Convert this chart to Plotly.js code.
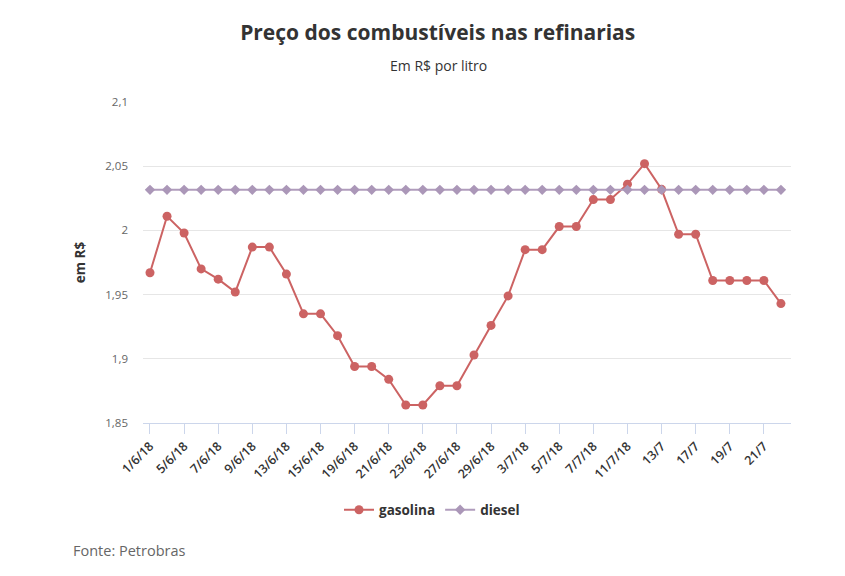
<!DOCTYPE html>
<html>
<head>
<meta charset="utf-8">
<script src="https://cdn.plot.ly/plotly-3.0.1.min.js"></script>
<style>
  html, body { margin: 0; padding: 0; background: #ffffff; }
  #chart { width: 845px; height: 576px; }
</style>
</head>
<body>
<div id="chart"></div>
<script>
// Datas de reajuste (eixo de categorias)
const datas = [
  "1/6/18", "2/6/18", "5/6/18", "6/6/18", "7/6/18", "8/6/18", "9/6/18", "12/6/18",
  "13/6/18", "14/6/18", "15/6/18", "16/6/18", "19/6/18", "20/6/18", "21/6/18", "22/6/18",
  "23/6/18", "26/6/18", "27/6/18", "28/6/18", "29/6/18", "30/6/18", "3/7/18", "4/7/18",
  "5/7/18", "6/7/18", "7/7/18", "10/7/18", "11/7/18", "12/7/18", "13/7", "14/7",
  "17/7", "18/7", "19/7", "20/7", "21/7", "24/7"
];

// Preço da gasolina nas refinarias (R$/litro)
const gasolina = [
  1.967, 2.011, 1.998, 1.970, 1.962, 1.952, 1.987, 1.987,
  1.966, 1.935, 1.935, 1.918, 1.894, 1.894, 1.884, 1.864,
  1.864, 1.879, 1.879, 1.903, 1.926, 1.949, 1.985, 1.985,
  2.003, 2.003, 2.024, 2.024, 2.036, 2.052, 2.032, 1.997,
  1.997, 1.961, 1.961, 1.961, 1.961, 1.943
];

// Preço do diesel nas refinarias (R$/litro), congelado no período
const diesel = datas.map(() => 2.0316);

// Rótulos do eixo Y no formato brasileiro
const yTicks = [1.85, 1.9, 1.95, 2, 2.05, 2.1];
const yTickText = ["1,85", "1,9", "1,95", "2", "2,05", "2,1"];

// Um rótulo a cada duas datas
const xTicks = datas.filter((d, i) => i % 2 === 0);

const FONT = "'Open Sans', 'Noto Sans', sans-serif";

const traces = [
  {
    name: "gasolina",
    x: datas,
    y: gasolina,
    type: "scatter",
    mode: "lines+markers",
    line: { color: "#cc6363", width: 2 },
    marker: { symbol: "circle", size: 9, color: "#cc6363" },
    hoverinfo: "x+y+name"
  },
  {
    name: "diesel",
    x: datas,
    y: diesel,
    type: "scatter",
    mode: "lines+markers",
    line: { color: "#b09cbc", width: 2 },
    marker: { symbol: "diamond", size: 8, color: "#ab97b8" },
    hoverinfo: "x+y+name"
  }
];

const layout = {
  width: 845,
  height: 576,
  paper_bgcolor: "#ffffff",
  plot_bgcolor: "#ffffff",
  margin: { l: 143, r: 54, t: 102, b: 153 },
  font: { family: FONT, color: "#333333" },
  title: {
    text: "<b>Preço dos combustíveis nas refinarias</b>",
    font: { family: FONT, size: 21, color: "#333333" },
    x: 0.518,
    xref: "container",
    xanchor: "center",
    y: 0.944,
    yref: "container",
    yanchor: "middle"
  },
  xaxis: {
    type: "category",
    range: [-0.41, 37.59],
    tickmode: "array",
    tickvals: xTicks,
    ticktext: xTicks,
    tickangle: -45,
    tickfont: { family: FONT, size: 12.5, color: "#333333", weight: 600 },
    ticks: "outside",
    ticklen: 10,
    tickwidth: 1,
    tickcolor: "#ccd6eb",
    showline: true,
    linecolor: "#ccd6eb",
    linewidth: 1,
    showgrid: false,
    zeroline: false,
    fixedrange: true
  },
  yaxis: {
    range: [1.85, 2.1],
    tickmode: "array",
    tickvals: yTicks,
    ticktext: yTickText,
    tickfont: { family: FONT, size: 11.5, color: "#666666" },
    ticklabelstandoff: 14,
    showgrid: true,
    gridcolor: "#e6e6e6",
    gridwidth: 1,
    zeroline: false,
    showline: false,
    ticks: "",
    title: {
      text: "<b>em R$</b>",
      font: { family: FONT, size: 13.5, color: "#333333" },
      standoff: 16
    },
    fixedrange: true
  },
  showlegend: true,
  legend: {
    orientation: "h",
    x: 0.446,
    xanchor: "center",
    y: -0.271,
    yanchor: "middle",
    font: { family: FONT, size: 13.5, color: "#333333", weight: 700 },
    itemwidth: 30,
    tracegroupgap: 0
  },
  annotations: [
    {
      text: "Em R$ por litro",
      xref: "paper",
      yref: "paper",
      x: (438 - 143) / 648,
      y: (423 - 65) / 321,
      xanchor: "center",
      yanchor: "middle",
      showarrow: false,
      font: { family: FONT, size: 14, color: "#333333" }
    },
    {
      text: "Fonte: Petrobras",
      xref: "paper",
      yref: "paper",
      x: (71 - 143) / 648,
      y: (423 - 550) / 321,
      xanchor: "left",
      yanchor: "middle",
      showarrow: false,
      font: { family: FONT, size: 14.5, color: "#666666" }
    }
  ]
};

Plotly.newPlot("chart", traces, layout, { displayModeBar: false, responsive: false });
</script>
</body>
</html>
